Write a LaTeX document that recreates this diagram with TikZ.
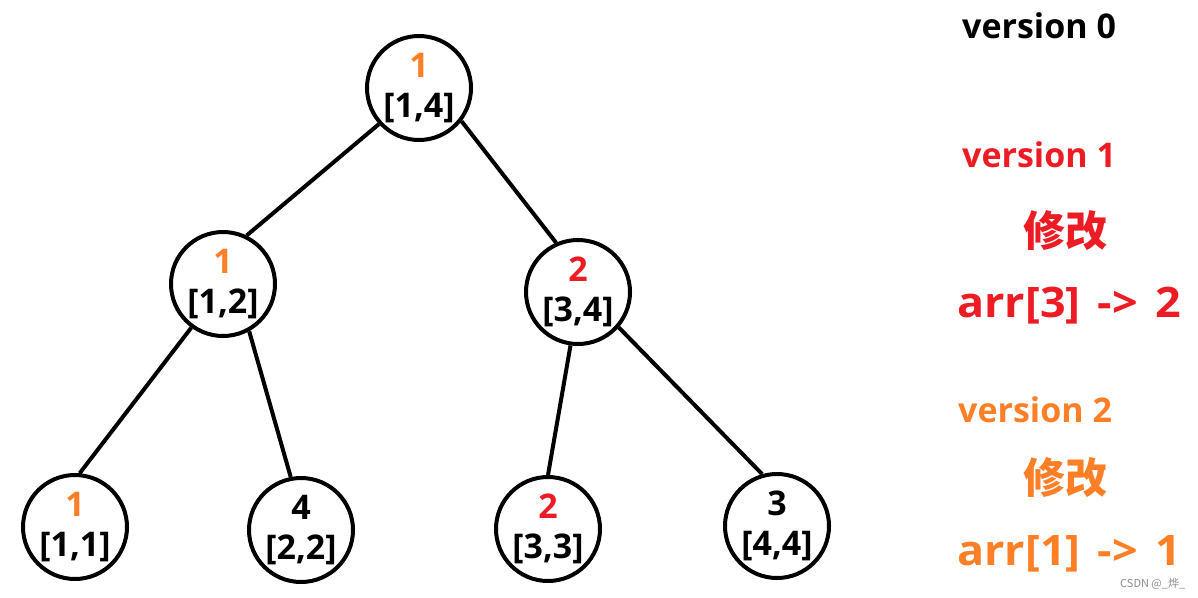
\documentclass[tikz,border=0pt]{standalone}
\usepackage{fontspec}
\setmainfont{Open Sans}
\newfontfamily\cjk{Noto Sans CJK SC}
\definecolor{pord}{HTML}{FF7F27}
\definecolor{pred}{HTML}{ED1C24}
\definecolor{wmgray}{HTML}{8C8C8C}
\begin{document}
\begin{tikzpicture}[x=1pt,y=-1pt,
  tn/.style={circle,draw,line width=4pt,minimum size=104pt,inner sep=0pt,
    font=\fontsize{34}{40}\selectfont\bfseries,align=center},
  edge/.style={line width=4pt},
  txt/.style={anchor=base west,inner sep=0pt,font=\fontsize{34}{40}\selectfont\bfseries},
  big/.style={anchor=base west,inner sep=0pt,font=\fontsize{42}{48}\selectfont\bfseries},
  cjkt/.style={inner sep=0pt,font=\fontsize{42}{48}\selectfont\cjk\bfseries}]
\useasboundingbox (0,0) rectangle (1198,597);
\fill[white] (0,0) rectangle (1198,597);

\node[tn] (root) at (419,88) {\textcolor{pord}{1}\\{[1,4]}};
\node[tn] (n12) at (223,284) {\textcolor{pord}{1}\\{[1,2]}};
\node[tn] (n34) at (578,292) {\textcolor{pred}{2}\\{[3,4]}};
\node[tn] (n11) at (75,527) {\textcolor{pord}{1}\\{[1,1]}};
\node[tn] (n22) at (301,530) {4\\{[2,2]}};
\node[tn] (n33) at (548,529) {\textcolor{pred}{2}\\{[3,3]}};
\node[tn] (n44) at (777,526) {3\\{[4,4]}};

\draw[edge] (root.222) -- (n12.64);
\draw[edge] (root.322) -- (n34.114);
\draw[edge] (n12.234) -- (n11.85);
\draw[edge] (n12.299) -- (n22.101);
\draw[edge] (n34.262) -- (n33.90);
\draw[edge] (n34.319) -- (n44.106);

\node[txt] (v0) at (962,38) {version 0};
\node[txt,text=pred] (v1) at (962,167) {version 1};
\node[cjkt,text=pred] (m1) at (1065,231) {修改};
\node[big,text=pred] (a1) at (957,317) {\scalebox{1.07}[1]{arr[3]\hspace{16pt}->\hspace{17pt}2}};
\node[txt,text=pord] (v2) at (958,422) {version 2};
\node[cjkt,text=pord] (m2) at (1065,478) {修改};
\node[big,text=pord] (a2) at (957,565) {\scalebox{1.07}[1]{arr[1]\hspace{16pt}->\hspace{17pt}1}};
\node[anchor=base west,inner sep=0pt,text=wmgray,font=\fontsize{11}{12}\selectfont\cjk] (wm) at (1120,587) {CSDN @\_烨\_};
\end{tikzpicture}
\end{document}
